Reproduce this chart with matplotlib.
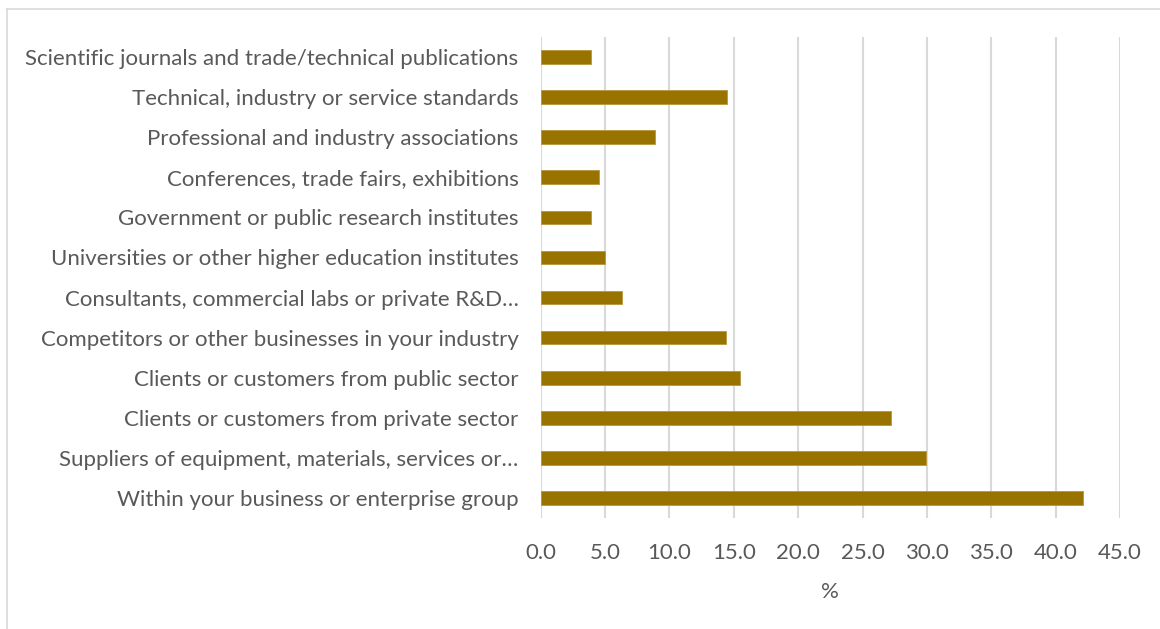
import matplotlib.pyplot as plt
from matplotlib.lines import Line2D

# data, top to bottom
categories = [
    "Scientific journals and trade/technical publications",
    "Technical, industry or service standards",
    "Professional and industry associations",
    "Conferences, trade fairs, exhibitions",
    "Government or public research institutes",
    "Universities or other higher education institutes",
    "Consultants, commercial labs or private R&D\u2026",
    "Competitors or other businesses in your industry",
    "Clients or customers from public sector",
    "Clients or customers from private sector",
    "Suppliers of equipment, materials, services or\u2026",
    "Within your business or enterprise group",
]
values = [3.9, 14.5, 8.9, 4.5, 3.9, 5.0, 6.3, 14.4, 15.5, 27.2, 29.9, 42.1]
x_ticks = [0, 5, 10, 15, 20, 25, 30, 35, 40, 45]

bar_color = "#997300"
text_color = "#595959"
grid_color = "#D9D9D9"

plt.rcParams['font.family'] = ['Lato', 'DejaVu Sans']

fig = plt.figure(figsize=(11.6, 6.29), dpi=100)
ax = fig.add_axes([540.7 / 1160, 1 - 518 / 629, (1120 - 540.7) / 1160, (518 - 37) / 629])

pos = list(range(len(categories)))
ax.barh(pos, values, height=0.34, color=bar_color, edgecolor="#b8963a", linewidth=0.6, zorder=3)

ax.set_ylim(len(categories) - 0.5, -0.5)
ax.set_xlim(0, 45)
ax.set_xticks(x_ticks)
ax.set_xticklabels([f"{t:.1f}" for t in x_ticks])
ax.set_yticks(pos)
ax.set_yticklabels(categories)

ax.grid(axis="x", color=grid_color, linewidth=1.5, zorder=0)
for s in ax.spines.values():
    s.set_visible(False)
ax.tick_params(axis="both", length=0, colors=text_color, labelsize=16)
ax.tick_params(axis="y", pad=16)
ax.tick_params(axis="x", pad=18)
ax.set_xlabel("%", color=text_color, fontsize=16, labelpad=14)

# outer chart border (light gray)
fig.add_artist(Line2D([7 / 1160, 7 / 1160], [0, 1 - 9 / 629], transform=fig.transFigure,
                      color=grid_color, linewidth=1.2))
fig.add_artist(Line2D([7 / 1160, 1], [1 - 9 / 629, 1 - 9 / 629], transform=fig.transFigure,
                      color=grid_color, linewidth=1.2))

plt.savefig("out.png", dpi=100)
plt.close()
